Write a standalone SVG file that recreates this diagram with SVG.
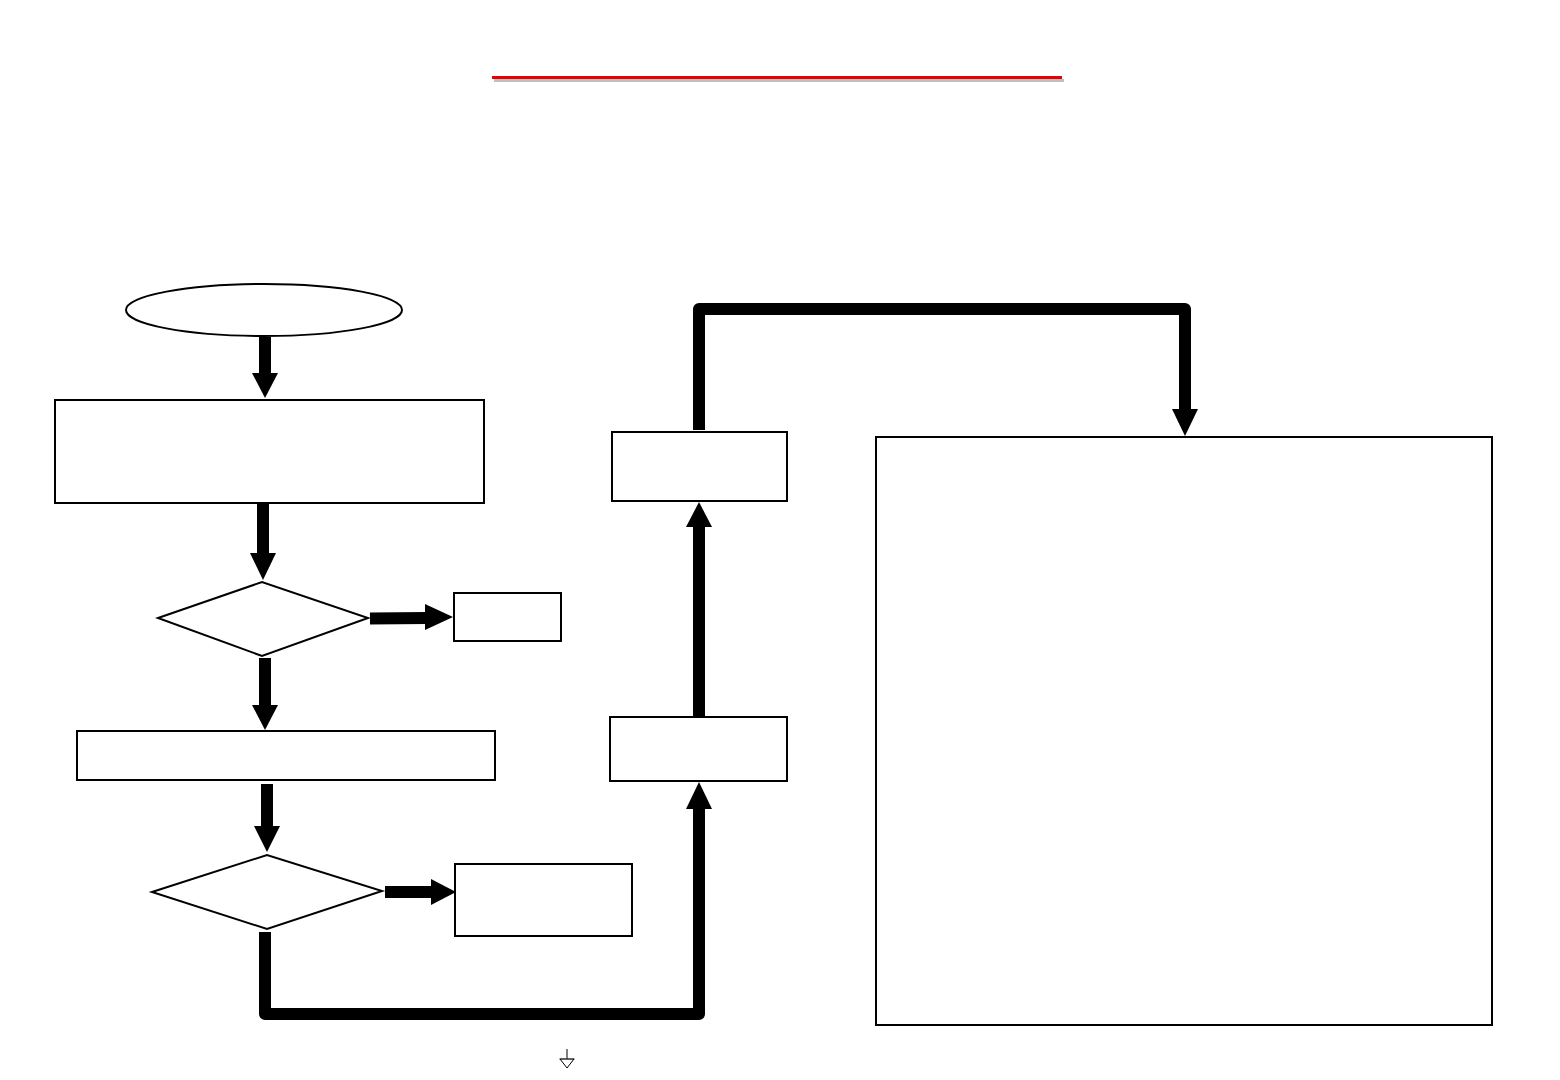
<svg xmlns="http://www.w3.org/2000/svg" width="1560" height="1080" viewBox="0 0 1560 1080">
<style>
.n{fill:#fff;stroke:#000;stroke-width:2}
.c{fill:none;stroke:#000;stroke-width:12;stroke-linejoin:round;stroke-linecap:butt}
.h{fill:#000}
</style>
<rect width="1560" height="1080" fill="#fff"/>
<g id="title">
<rect x="494" y="79" width="570" height="3" fill="#bfbfbf"/>
<rect x="492" y="76" width="570" height="3" fill="#e60000"/>
</g>
<g id="start"><ellipse class="n" cx="264" cy="310" rx="138" ry="26"/></g>
<g id="box1"><rect class="n" x="55" y="400" width="429" height="103"/></g>
<g id="dec1"><polygon class="n" points="158,618 262,582 368,618 262,656"/></g>
<g id="out1"><rect class="n" x="454" y="593" width="107" height="48"/></g>
<g id="box2"><rect class="n" x="77" y="731" width="418" height="49"/></g>
<g id="dec2"><polygon class="n" points="152,892 267,855 382,891 267,929"/></g>
<g id="out2"><rect class="n" x="455" y="864" width="177" height="72"/></g>
<g id="box4"><rect class="n" x="610" y="717" width="177" height="64"/></g>
<g id="box5"><rect class="n" x="612" y="432" width="175" height="69"/></g>
<g id="big"><rect class="n" x="876" y="437" width="616" height="588"/></g>
<g id="connectors">
<line class="c" x1="265" y1="337" x2="265" y2="374"/>
<polygon class="h" points="252,373 278,373 265,398"/>
<line class="c" x1="263" y1="503" x2="263" y2="554"/>
<polygon class="h" points="250,553 276,553 263,580"/>
<line class="c" x1="370" y1="618.5" x2="427" y2="618"/>
<polygon class="h" points="425,604 453,617 425,630"/>
<line class="c" x1="265" y1="658" x2="265" y2="706"/>
<polygon class="h" points="252,705 278,705 265,730"/>
<line class="c" x1="267" y1="784" x2="267" y2="827"/>
<polygon class="h" points="254,826 280,826 267,852"/>
<line class="c" x1="385" y1="892" x2="433" y2="892"/>
<polygon class="h" points="431,879 456,892 431,905"/>
<path class="c" d="M265,932 V1014 H699 V808"/>
<polygon class="h" points="686,809 712,809 699,782"/>
<line class="c" x1="699" y1="716" x2="699" y2="526"/>
<polygon class="h" points="686,527 712,527 699,502"/>
<path class="c" d="M699,430 V309 H1185 V410"/>
<polygon class="h" points="1172,409 1198,409 1185,436"/>
</g>
<g id="symbol" stroke="#000" stroke-width="1" fill="none">
<line x1="567" y1="1049" x2="567" y2="1059"/>
<line x1="559" y1="1059" x2="575" y2="1059" stroke="#888"/>
<polygon points="560,1059 574,1059 567,1068"/>
</g>
</svg>
